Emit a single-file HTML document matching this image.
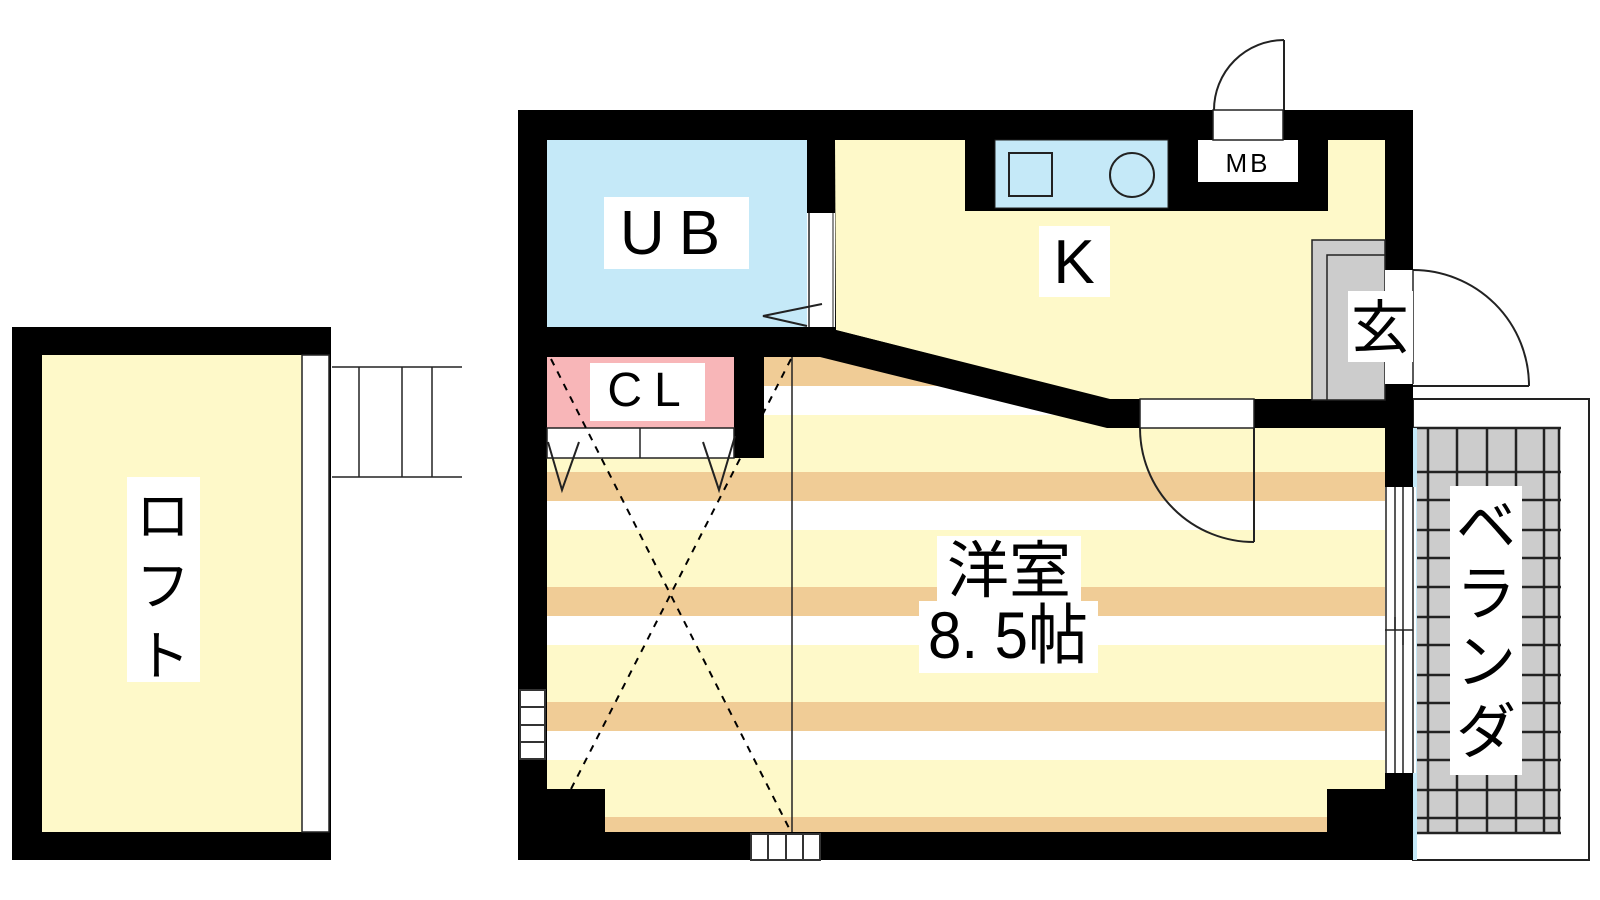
<!DOCTYPE html>
<html><head><meta charset="utf-8"><style>
html,body{margin:0;padding:0;background:#fff;width:1600px;height:900px;overflow:hidden}
svg{display:block}
text{font-family:"Liberation Sans","Noto Sans CJK JP",sans-serif;fill:#000}
</style></head><body>
<svg width="1600" height="900" viewBox="0 0 1600 900" xmlns="http://www.w3.org/2000/svg">
<!-- LOFT -->
<rect x="12" y="327" width="319" height="533" fill="#000"/>
<rect x="42" y="355" width="260" height="477" fill="#fef9c9"/>
<rect x="302" y="355" width="27" height="477" fill="#fff" stroke="#222" stroke-width="1.5"/>
<rect x="127" y="477" width="73" height="205" fill="#fff"/>
<text x="163" y="535" font-size="54" text-anchor="middle">ロ</text>
<text x="163" y="605" font-size="54" text-anchor="middle">フ</text>
<text x="163" y="675" font-size="54" text-anchor="middle">ト</text>
<!-- stairs -->
<g stroke="#222" stroke-width="1.5">
<line x1="332" y1="367" x2="462" y2="367"/><line x1="332" y1="477" x2="462" y2="477"/>
<line x1="359" y1="367" x2="359" y2="477"/><line x1="402" y1="367" x2="402" y2="477"/><line x1="432" y1="367" x2="432" y2="477"/>
</g>

<!-- VERANDA -->
<rect x="1413" y="399" width="176" height="461" fill="#fff" stroke="#222" stroke-width="2"/>
<rect x="1413" y="428" width="147" height="405" fill="#cccccc"/>
<g stroke="#222" stroke-width="2.5">
<line x1="1428" y1="428" x2="1428" y2="833"/><line x1="1457" y1="428" x2="1457" y2="833"/><line x1="1487" y1="428" x2="1487" y2="833"/><line x1="1516" y1="428" x2="1516" y2="833"/><line x1="1544" y1="428" x2="1544" y2="833"/><line x1="1559" y1="428" x2="1559" y2="833"/>
<line x1="1413" y1="428" x2="1561" y2="428"/><line x1="1413" y1="472" x2="1561" y2="472"/><line x1="1413" y1="500" x2="1561" y2="500"/><line x1="1413" y1="530" x2="1561" y2="530"/><line x1="1413" y1="558" x2="1561" y2="558"/><line x1="1413" y1="587" x2="1561" y2="587"/><line x1="1413" y1="617" x2="1561" y2="617"/><line x1="1413" y1="645" x2="1561" y2="645"/><line x1="1413" y1="675" x2="1561" y2="675"/><line x1="1413" y1="703" x2="1561" y2="703"/><line x1="1413" y1="732" x2="1561" y2="732"/><line x1="1413" y1="760" x2="1561" y2="760"/><line x1="1413" y1="790" x2="1561" y2="790"/><line x1="1413" y1="818" x2="1561" y2="818"/><line x1="1413" y1="833" x2="1561" y2="833"/>
</g>
<rect x="1413" y="428" width="4" height="432" fill="#c5e9f8"/>
<rect x="1450" y="486" width="72" height="289" fill="#fff"/>
<text x="1486" y="547" font-size="60" text-anchor="middle">ベ</text>
<text x="1486" y="615" font-size="60" text-anchor="middle">ラ</text>
<text x="1486" y="683" font-size="60" text-anchor="middle">ン</text>
<text x="1486" y="753" font-size="60" text-anchor="middle">ダ</text>

<!-- MAIN outer black -->
<rect x="518" y="110" width="895" height="750" fill="#000"/>
<!-- room stripes -->
<rect x="547" y="357" width="838" height="475" fill="#fef9c9"/>
<g fill="#f0cc96">
<rect x="547" y="357" width="838" height="29"/><rect x="547" y="472" width="838" height="29"/><rect x="547" y="587" width="838" height="29"/><rect x="547" y="702" width="838" height="29"/><rect x="547" y="817" width="838" height="15"/>
</g>
<g fill="#fff">
<rect x="547" y="386" width="838" height="29"/><rect x="547" y="501" width="838" height="29"/><rect x="547" y="616" width="838" height="29"/><rect x="547" y="731" width="838" height="29"/>
</g>
<!-- corner blocks -->
<rect x="518" y="789" width="87" height="71" fill="#000"/>
<rect x="1327" y="789" width="86" height="71" fill="#000"/>
<!-- UB -->
<rect x="547" y="140" width="260" height="187" fill="#c5e9f8"/>
<!-- K -->
<polygon points="835,140 1385,140 1385,400 1110,400 836,330" fill="#fef9c9"/>
<!-- UB/K wall + diagonal wall -->
<rect x="518" y="327" width="290" height="30" fill="#000"/>
<polygon points="807,327 836,330 1110,399 1140,399 1140,428 1107,428 820,357 764,357 764,327" fill="#000"/>
<rect x="1254" y="399" width="159" height="29" fill="#000"/>
<!-- CL -->
<rect x="547" y="357" width="187" height="71" fill="#f8b6b8"/>
<rect x="734" y="357" width="30" height="101" fill="#000"/>
<rect x="547" y="428" width="187" height="30" fill="#fff" stroke="#222" stroke-width="1.5"/>
<line x1="640" y1="428" x2="640" y2="458" stroke="#222" stroke-width="1.5"/>
<polyline points="548,442 562,490 579,442" fill="none" stroke="#222" stroke-width="2"/>
<polyline points="703,442 719,490 735,436" fill="none" stroke="#222" stroke-width="2"/>
<!-- dashed X and line -->
<g stroke="#000" stroke-width="2" stroke-dasharray="7,7" fill="none">
<line x1="551" y1="359" x2="791" y2="832"/><line x1="791" y1="359" x2="571" y2="789"/>
</g>
<line x1="792" y1="357" x2="792" y2="832" stroke="#222" stroke-width="1.5"/>
<!-- UB door -->
<rect x="807" y="213" width="28" height="114" fill="#fff"/>
<line x1="809" y1="213" x2="809" y2="327" stroke="#222" stroke-width="1.5"/>
<line x1="833" y1="213" x2="833" y2="327" stroke="#222" stroke-width="1"/>
<polyline points="822,304 763,316 807,326" fill="none" stroke="#222" stroke-width="2"/>
<!-- kitchen -->
<rect x="965" y="140" width="363" height="71" fill="#000"/>
<rect x="995" y="140" width="173" height="68" fill="#c5e9f8" stroke="#222" stroke-width="1"/>
<rect x="1009" y="153" width="43" height="43" fill="none" stroke="#222" stroke-width="2"/>
<circle cx="1132" cy="175" r="22" fill="none" stroke="#222" stroke-width="2"/>
<rect x="1198" y="140" width="100" height="42" fill="#fff"/>
<text x="1248" y="172" font-size="26" text-anchor="middle" letter-spacing="3">MB</text>
<!-- MB door -->
<rect x="1213" y="110" width="70" height="30" fill="#fff" stroke="#222" stroke-width="1.5"/>
<path d="M1284,40 L1284,110 M1284,40 A70,70 0 0 0 1214,110" fill="none" stroke="#222" stroke-width="2"/>
<!-- genkan -->
<rect x="1312" y="240" width="73" height="160" fill="#cccccc" stroke="#222" stroke-width="1.5"/>
<path d="M1327,400 L1327,255 L1385,255" fill="none" stroke="#222" stroke-width="1.5"/>
<!-- entry door -->
<rect x="1385" y="270" width="28" height="114" fill="#fff"/>
<line x1="1413" y1="270" x2="1413" y2="384" stroke="#222" stroke-width="1.5"/>
<path d="M1413,386 L1529,386 M1413,270 A116,116 0 0 1 1529,386" fill="none" stroke="#222" stroke-width="2"/>
<rect x="1348" y="291" width="65" height="71" fill="#fff"/>
<text x="1380" y="348" font-size="58" text-anchor="middle">玄</text>
<rect x="1039" y="226" width="71" height="71" fill="#fff"/>
<text x="1074" y="283" font-size="62" text-anchor="middle">K</text>
<!-- room door -->
<rect x="1140" y="399" width="114" height="29" fill="#fff" stroke="#222" stroke-width="1.5"/>
<path d="M1254,428 L1254,542 M1140,428 A114,114 0 0 0 1254,542" fill="none" stroke="#222" stroke-width="2"/>
<!-- windows -->
<rect x="1385" y="487" width="31" height="286" fill="#fff"/>
<g stroke="#222" stroke-width="1.5">
<line x1="1386" y1="487" x2="1386" y2="773"/><line x1="1395" y1="487" x2="1395" y2="773"/><line x1="1403" y1="487" x2="1403" y2="773"/><line x1="1413" y1="487" x2="1413" y2="773"/>
<line x1="1385" y1="630" x2="1413" y2="630"/><line x1="1395" y1="617" x2="1395" y2="630"/><line x1="1403" y1="630" x2="1403" y2="645"/>
</g>
<g fill="#fff" stroke="#333" stroke-width="2">
<rect x="520" y="690" width="25" height="17"/><rect x="520" y="707" width="25" height="18"/><rect x="520" y="725" width="25" height="17"/><rect x="520" y="742" width="25" height="17"/>
<rect x="751" y="834" width="17" height="26"/><rect x="768" y="834" width="18" height="26"/><rect x="786" y="834" width="17" height="26"/><rect x="803" y="834" width="17" height="26"/>
</g>
<!-- labels -->
<rect x="604" y="197" width="145" height="72" fill="#fff"/>
<text x="677" y="254" font-size="62" text-anchor="middle" letter-spacing="14">UB</text>
<rect x="590" y="363" width="115" height="58" fill="#fff"/>
<text x="650" y="406" font-size="48" text-anchor="middle" letter-spacing="12">CL</text>
<rect x="937" y="536" width="144" height="66" fill="#fff"/>
<text x="1009" y="592" font-size="62" text-anchor="middle">洋室</text>
<rect x="919" y="601" width="179" height="72" fill="#fff"/>
<text x="1008" y="658" font-size="66" text-anchor="middle" textLength="160" lengthAdjust="spacingAndGlyphs">8. 5帖</text>
</svg>
</body></html>
